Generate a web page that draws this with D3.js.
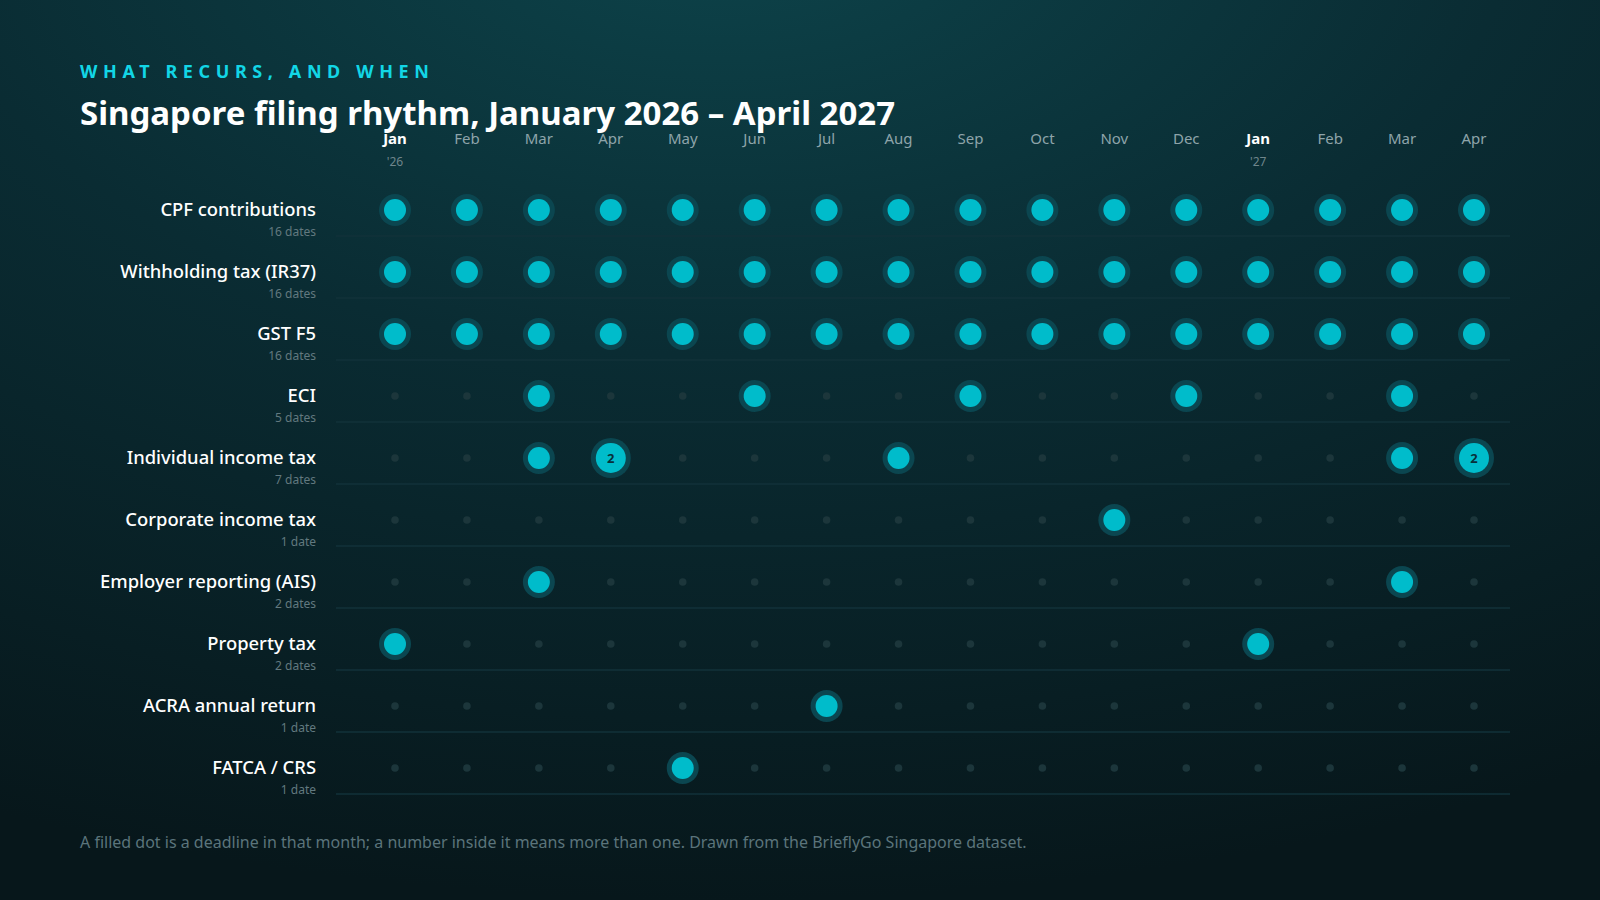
<!DOCTYPE html>
<html>
<head>
<meta charset="utf-8">
<script src="https://cdn.jsdelivr.net/npm/d3@7"></script>
<style>
  html, body { margin: 0; padding: 0; background: #08191e; }
  svg { display: block; font-family: "Noto Sans", "Open Sans", sans-serif; }
</style>
</head>
<body>
<div id="chart"></div>
<script>
// Months shown across the top
const months = ['Jan', 'Feb', 'Mar', 'Apr', 'May', 'Jun', 'Jul', 'Aug', 'Sep', 'Oct', 'Nov', 'Dec', 'Jan', 'Feb', 'Mar', 'Apr'];
const yearMarks = ["'26", '', '', '', '', '', '', '', '', '', '', '', "'27", '', '', ''];

// Filing types, one row each
const filings = ['CPF contributions', 'Withholding tax (IR37)', 'GST F5', 'ECI', 'Individual income tax',
  'Corporate income tax', 'Employer reporting (AIS)', 'Property tax', 'ACRA annual return', 'FATCA / CRS'];

// Deadlines per month for each filing type
const cpf         = [1, 1, 1, 1, 1, 1, 1, 1, 1, 1, 1, 1, 1, 1, 1, 1];
const withholding = [1, 1, 1, 1, 1, 1, 1, 1, 1, 1, 1, 1, 1, 1, 1, 1];
const gst         = [1, 1, 1, 1, 1, 1, 1, 1, 1, 1, 1, 1, 1, 1, 1, 1];
const eci         = [0, 0, 1, 0, 0, 1, 0, 0, 1, 0, 0, 1, 0, 0, 1, 0];
const individual  = [0, 0, 1, 2, 0, 0, 0, 1, 0, 0, 0, 0, 0, 0, 1, 2];
const corporate   = [0, 0, 0, 0, 0, 0, 0, 0, 0, 0, 1, 0, 0, 0, 0, 0];
const employer    = [0, 0, 1, 0, 0, 0, 0, 0, 0, 0, 0, 0, 0, 0, 1, 0];
const property    = [1, 0, 0, 0, 0, 0, 0, 0, 0, 0, 0, 0, 1, 0, 0, 0];
const acra        = [0, 0, 0, 0, 0, 0, 1, 0, 0, 0, 0, 0, 0, 0, 0, 0];
const fatca       = [0, 0, 0, 0, 1, 0, 0, 0, 0, 0, 0, 0, 0, 0, 0, 0];
const counts = [cpf, withholding, gst, eci, individual, corporate, employer, property, acra, fatca];

const width = 1600, height = 900;

const svg = d3.select('#chart')
  .append('svg')
  .attr('width', width)
  .attr('height', height);

// Background glow
const defs = svg.append('defs');
const bg = defs.append('radialGradient')
  .attr('id', 'bg')
  .attr('cx', '45%').attr('cy', '-10%').attr('r', '110%')
  .attr('gradientUnits', 'objectBoundingBox');
bg.append('stop').attr('offset', '0%').attr('stop-color', '#0d444b');
bg.append('stop').attr('offset', '45%').attr('stop-color', '#0a2c33');
bg.append('stop').attr('offset', '100%').attr('stop-color', '#07171b');
svg.append('rect').attr('width', width).attr('height', height).attr('fill', 'url(#bg)');

// Scales
const x = d3.scalePoint()
  .domain(d3.range(months.length))
  .range([395, 1474]);

const y = d3.scalePoint()
  .domain(filings)
  .range([210, 768]);

// Headings
svg.append('text')
  .attr('x', 80).attr('y', 78)
  .attr('fill', '#12d6e6')
  .attr('font-size', 18)
  .attr('font-weight', 700)
  .attr('letter-spacing', 5.6)
  .text('WHAT RECURS, AND WHEN');

svg.append('text')
  .attr('x', 80).attr('y', 125)
  .attr('fill', '#ffffff')
  .attr('font-size', 33)
  .attr('font-weight', 700)
  .text('Singapore filing rhythm, January 2026 \u2013 April 2027');

// Month header
const head = svg.append('g');
head.selectAll('text.month')
  .data(months)
  .join('text')
  .attr('class', 'month')
  .attr('x', (d, i) => x(i))
  .attr('y', 144)
  .attr('text-anchor', 'middle')
  .attr('font-size', 15)
  .attr('font-weight', (d, i) => yearMarks[i] ? 700 : 400)
  .attr('fill', (d, i) => yearMarks[i] ? '#ffffff' : '#8ea4aa')
  .text(d => d);

head.selectAll('text.year')
  .data(yearMarks)
  .join('text')
  .attr('class', 'year')
  .attr('x', (d, i) => x(i))
  .attr('y', 166)
  .attr('text-anchor', 'middle')
  .attr('font-size', 12)
  .attr('fill', '#6f868c')
  .text(d => d);

// Rows
const rows = svg.selectAll('g.row')
  .data(filings)
  .join('g')
  .attr('class', 'row')
  .attr('transform', d => `translate(0, ${y(d)})`);

rows.append('line')
  .attr('x1', 336).attr('x2', 1510)
  .attr('y1', 26).attr('y2', 26)
  .attr('stroke', '#12323a')
  .attr('stroke-width', 1.5);

rows.append('text')
  .attr('x', 316).attr('y', 6)
  .attr('text-anchor', 'end')
  .attr('fill', '#ffffff')
  .attr('font-size', 18.4)
  .attr('font-weight', 500)
  .text(d => d);

rows.append('text')
  .attr('x', 316).attr('y', 26)
  .attr('text-anchor', 'end')
  .attr('fill', '#62797f')
  .attr('font-size', 12)
  .text((d, i) => {
    const n = d3.sum(counts[i]);
    return n + (n === 1 ? ' date' : ' dates');
  });

// Cells
const cells = rows.selectAll('g.cell')
  .data((d, i) => counts[i].map((v, j) => ({ v, j })))
  .join('g')
  .attr('class', 'cell')
  .attr('transform', d => `translate(${x(d.j)}, 0)`);

cells.filter(d => d.v === 0)
  .append('circle')
  .attr('r', 3.8)
  .attr('fill', '#1c363b');

const filled = cells.filter(d => d.v > 0);
filled.append('circle')
  .attr('r', d => d.v > 1 ? 20 : 16)
  .attr('fill', '#0b4650');
filled.append('circle')
  .attr('r', d => d.v > 1 ? 15 : 11)
  .attr('fill', '#00bccb');
filled.filter(d => d.v > 1)
  .append('text')
  .attr('y', 5)
  .attr('text-anchor', 'middle')
  .attr('font-size', 13)
  .attr('font-weight', 700)
  .attr('fill', '#08303a')
  .text(d => d.v);

// Footnote
svg.append('text')
  .attr('x', 80).attr('y', 848)
  .attr('fill', '#5b747b')
  .attr('font-size', 16)
  .text('A filled dot is a deadline in that month; a number inside it means more than one. Drawn from the BrieflyGo Singapore dataset.');
</script>
</body>
</html>
